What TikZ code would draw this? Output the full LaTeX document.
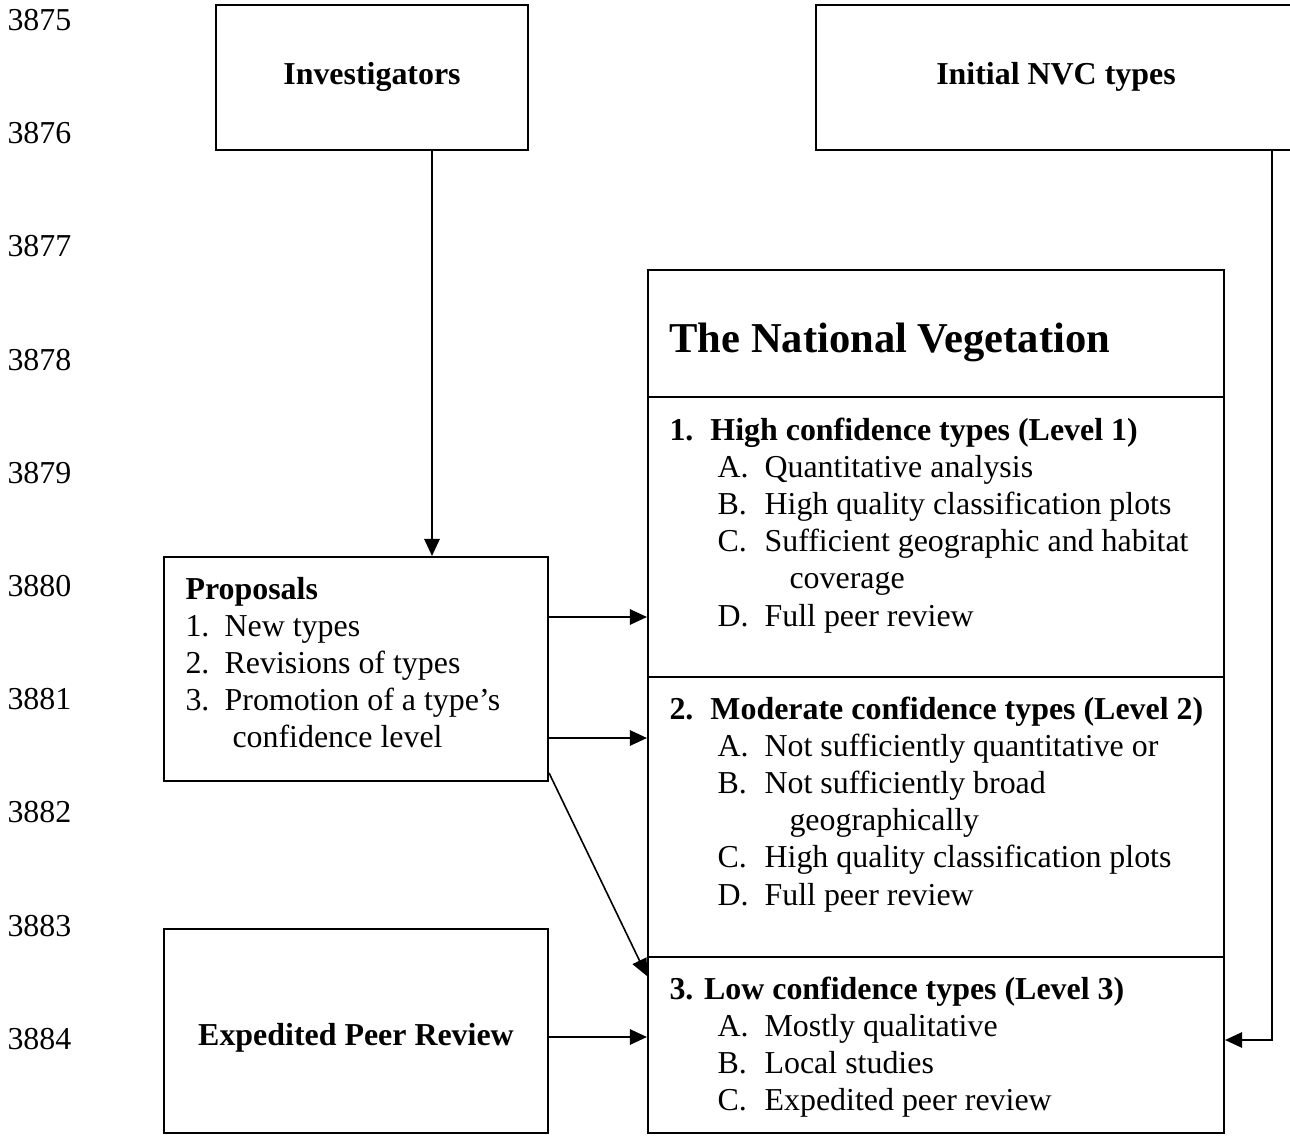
\documentclass[tikz,border=0pt]{standalone}
\usepackage{fontspec}
\setmainfont{Liberation Serif}
\usetikzlibrary{arrows.meta,fit}

\newcommand\itemlab[1]{\makebox[17.7pt][l]{#1}}
\newcommand\proplab[1]{\makebox[14.7pt][l]{#1}}
\newcommand\headlab[1]{\makebox[15.4pt][l]{#1}}

\tikzset{
  box/.style={draw, line width=0.8pt, inner sep=0pt},
  txt/.style={inner sep=0pt, anchor=base west, font=\fontsize{12pt}{14.4pt}\selectfont},
  ctxt/.style={inner sep=0pt, font=\fontsize{12pt}{14.4pt}\selectfont\bfseries},
  lineno/.style={inner sep=0pt, anchor=west, font=\fontsize{12pt}{14.4pt}\selectfont},
  arr/.style={line width=0.6pt, -{Triangle[length=6.4pt,width=5.8pt]}},
}

\begin{document}
\begin{tikzpicture}[x=0.376pt, y=-0.376pt]
  \useasboundingbox (0,0) rectangle (1290,1136);
  % Line numbers of the page
  \foreach \n [count=\i from 0] in {3875,3876,3877,3878,3879,3880,3881,3882,3883,3884}
    \node[lineno] (ln\n) at (7,{20+113.2*\i}) {\n};

  % Top boxes
  \node[box, fit={(216,5) (528,150)}] (inv) {};
  \node[ctxt] (invt) at (372,77) {Investigators};
  \node[box, fit={(816,5) (1300,150)}] (initnvc) {};
  \node[ctxt] (initnvct) at (1056,77) {Initial NVC types};

  % Left boxes
  \node[box, fit={(164,557) (548,781)}] (prop) {};
  \node[txt] (propt) at (185,599) {\bfseries Proposals};
  \foreach \xx/\txt [count=\i from 1] in {185/\proplab{1.}New types, 185/\proplab{2.}Revisions of types,
      185/\proplab{3.}Promotion of a type’s, 232/confidence level}
    \node[txt] (prop\i) at (\xx,{599+37.2*\i}) {\txt};
  \node[box, fit={(164,929) (548,1133)}] (expd) {};
  \node[ctxt] (expdt) at (356,1038) {Expedited Peer Review};

  % The classification with its three levels
  \node[box, fit={(648,270) (1224,397)}] (head) {};
  \node[box, fit={(648,397) (1224,677)}] (lvl1) {};
  \node[box, fit={(648,677) (1224,957)}] (lvl2) {};
  \node[box, fit={(648,957) (1224,1133)}] (lvl3) {};
  \node[txt, font=\fontsize{16pt}{19.2pt}\selectfont\bfseries] (title) at (669,352) {The National Vegetation};

  \node[txt] (lvl1h) at (669,440) {\bfseries\headlab{1.}High confidence types (Level 1)};
  \foreach \xx/\txt [count=\i from 1] in {717/\itemlab{A.}Quantitative analysis, 717/\itemlab{B.}High quality classification plots,
      717/\itemlab{C.}Sufficient geographic and habitat, 789/coverage, 717/\itemlab{D.}Full peer review}
    \node[txt] (lvl1i\i) at (\xx,{440+37.2*\i}) {\txt};

  \node[txt] (lvl2h) at (669,719) {\bfseries\headlab{2.}Moderate confidence types (Level 2)};
  \foreach \xx/\txt [count=\i from 1] in {717/\itemlab{A.}Not sufficiently quantitative or, 717/\itemlab{B.}Not sufficiently broad,
      789/geographically, 717/\itemlab{C.}High quality classification plots, 717/\itemlab{D.}Full peer review}
    \node[txt] (lvl2i\i) at (\xx,{719+37.2*\i}) {\txt};

  \node[txt] (lvl3h) at (669,999) {\bfseries 3. Low confidence types (Level 3)};
  \foreach \xx/\txt [count=\i from 1] in {717/\itemlab{A.}Mostly qualitative, 717/\itemlab{B.}Local studies,
      717/\itemlab{C.}Expedited peer review}
    \node[txt] (lvl3i\i) at (\xx,{999+37.2*\i}) {\txt};

  % Connectors
  \draw[arr] (inv.south -| 432,0) -- (prop.north -| 432,0);
  \draw[arr] (prop.east |- 0,617) -- (lvl1.west |- 0,617);
  \draw[arr] (prop.east |- 0,738) -- (lvl2.west |- 0,738);
  \draw[arr] (prop.east |- 0,773) -- (lvl3.west |- 0,976);
  \draw[arr] (expd.east |- 0,1037) -- (lvl3.west |- 0,1037);
  \draw[arr] (initnvc.south -| 1272,0) |- (lvl3.east |- 0,1040);
\end{tikzpicture}
\end{document}
